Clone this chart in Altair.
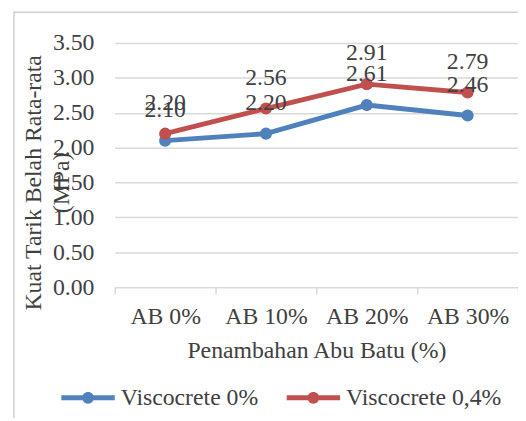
import altair as alt
import pandas as pd

categories = ["AB 0%", "AB 10%", "AB 20%", "AB 30%"]
series_names = ["Viscocrete 0%", "Viscocrete 0,4%"]
visco0 = [2.10, 2.20, 2.61, 2.46]
visco04 = [2.20, 2.56, 2.91, 2.79]
y_ticks = [0, 0.5, 1.0, 1.5, 2.0, 2.5, 3.0, 3.5]
colors = ["#4F81BD", "#C0504D"]

rows = []
for c, v in zip(categories, visco0):
    rows.append({"cat": c, "series": series_names[0], "val": v})
for c, v in zip(categories, visco04):
    rows.append({"cat": c, "series": series_names[1], "val": v})
df = pd.DataFrame(rows)

FONT = "Liberation Serif"
TXT = "#404040"
FS = 24

x_enc = alt.X("cat:N", sort=categories, bandPosition=0.5,
              scale=alt.Scale(type="band", paddingInner=0, paddingOuter=0),
              axis=alt.Axis(title="Penambahan Abu Batu (%)", labelAngle=0, tickBand="extent",
                            grid=False, domainColor="#d9d9d9", domainWidth=1.5,
                            tickColor="#d9d9d9", tickWidth=1.5, tickSize=7,
                            labelPadding=11, titlePadding=10))
y_enc = alt.Y("val:Q", scale=alt.Scale(domain=[0, 3.5], nice=False),
              axis=alt.Axis(values=y_ticks, format=".2f", domain=False, ticks=False,
                            gridColor="#d9d9d9", gridWidth=1.5, labelPadding=21,
                            title=["Kuat Tarik Belah Rata-rata", "(MPa)"],
                            titleAngle=270, titleX=-82, titleY=141,
                            titleAlign="center", titleBaseline="middle",
                            titleLineHeight=28))
color_scale = alt.Scale(domain=series_names, range=colors)

legend_path = ("M-2.5,-0.23 L2.5,-0.23 L2.5,0.23 L-2.5,0.23 Z "
               "M-0.556,0 A0.556,0.556 0 1,1 0.556,0 A0.556,0.556 0 1,1 -0.556,0 Z")
legend = alt.Legend(title=None, orient="none", direction="horizontal",
                    legendX=-39, legendY=347,
                    symbolType=legend_path, symbolSize=467,
                    symbolStrokeWidth=0, symbolOpacity=1,
                    labelFont=FONT, labelFontSize=FS, labelColor=TXT,
                    labelOffset=21, columnPadding=27)

base = alt.Chart(df)

line = base.mark_line(strokeWidth=5).encode(
    x=x_enc, y=y_enc,
    color=alt.Color("series:N", scale=color_scale, legend=legend),
)

pts = base.mark_circle(size=150, opacity=1).encode(
    x=x_enc, y=y_enc,
    color=alt.Color("series:N", scale=color_scale, legend=legend),
)

labels = base.mark_text(dy=-31, fontSize=FS, font=FONT, color=TXT).encode(
    x=x_enc, y=y_enc, text=alt.Text("val:Q", format=".2f"),
)

border = alt.Chart(pd.DataFrame({"a": [0]})).mark_rect(
    fill=None, stroke="#d0d0d0", strokeWidth=1.5
).encode(x=alt.value(-102), x2=alt.value(430), y=alt.value(-31), y2=alt.value(420))

chart = alt.layer(border, line, pts, labels).properties(
    width=408, height=247,
    autosize=alt.AutoSizeParams(type="none"),
    padding={"left": 108, "top": 33, "right": 0, "bottom": 130},
).configure_view(stroke=None).configure_axis(
    labelFont=FONT, labelFontSize=FS, labelColor=TXT,
    titleFont=FONT, titleFontSize=FS, titleColor=TXT, titleFontWeight="normal",
)

chart.save("out.html", embed_options={"renderer": "svg", "actions": False})
